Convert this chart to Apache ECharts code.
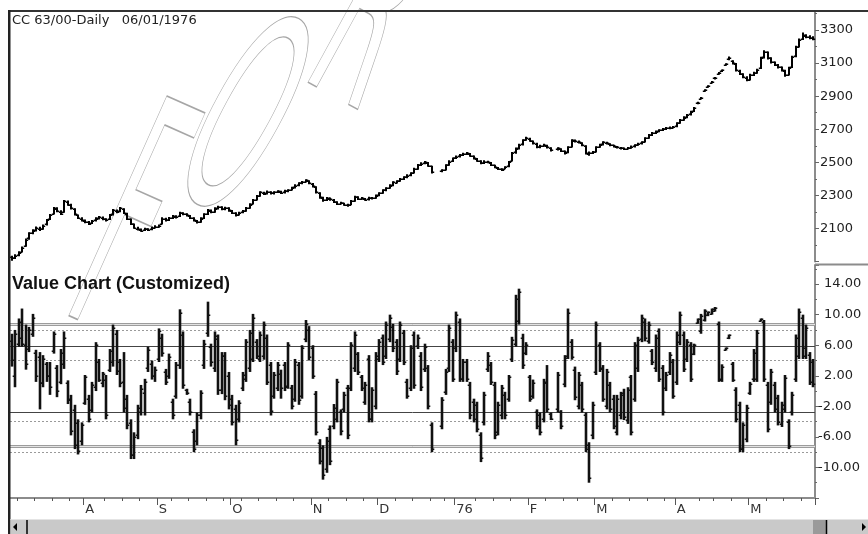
<!DOCTYPE html>
<html>
<head>
<meta charset="utf-8">
<script src="https://cdn.jsdelivr.net/npm/echarts@6/dist/echarts.min.js"></script>
<style>
html,body{margin:0;padding:0;background:#fff;}
#c{width:868px;height:534px;}
</style>
</head>
<body>
<div id="c"></div>
<script>
// ---------- texts ----------
const headerText = 'CC 63/00-Daily   06/01/1976';
const panelTitle = 'Value Chart (Customized)';
const watermarkLetters = ['F', 'O', 'R'];

// ---------- calendar ----------
const startDate = '1975-07-02';
const endDate = '1976-05-27';
const holidays = ['1975-07-04','1975-09-01','1975-11-27','1975-12-25','1976-01-01','1976-02-16','1976-04-16'];
const monthLetters = ['76','F','M','A','M','J','J','A','S','O','N','D'];

// ---------- axis ticks ----------
const priceAxis = { min: 1900, max: 3415, interval: 200, firstLabel: 2100, lastLabel: 3300 };
const valueAxis = { min: -14, max: 16.5, interval: 4, firstLabel: -10, lastLabel: 14 };

// ---------- value chart reference levels ----------
const bandLevels = [8.8, -7.2];      // light double lines
const innerLevels = [5.9, -2.8];     // dark solid lines
const dottedLevels = [8, 4, -4, -8]; // dotted lines

// ---------- price bars [open, high, low, close] ----------
const priceBars = [
[1930,1935,1905,1920],[1922,1945,1915,1935],[1940,1962,1932,1955],[1960,1992,1955,1985],[1995,2040,1990,2030],
[2040,2078,2032,2070],[2075,2095,2065,2085],[2090,2112,2082,2105],[2100,2110,2085,2095],[2100,2125,2092,2118],
[2125,2158,2118,2150],[2160,2188,2152,2180],[2190,2230,2185,2222],[2220,2228,2198,2205],[2200,2210,2182,2190],
[2200,2272,2195,2265],[2260,2270,2238,2245],[2240,2250,2215,2222],[2215,2222,2178,2185],[2180,2185,2158,2165],
[2160,2168,2142,2150],[2148,2155,2132,2140],[2138,2145,2122,2130],[2135,2152,2128,2145],[2150,2168,2142,2160],
[2162,2175,2155,2168],[2165,2172,2150,2158],[2155,2162,2142,2150],[2158,2188,2152,2180],[2185,2218,2178,2210],
[2205,2215,2192,2200],[2205,2230,2198,2222],[2215,2222,2188,2195],[2190,2195,2152,2160],[2155,2160,2122,2130],
[2125,2130,2098,2105],[2100,2110,2088,2095],[2092,2100,2080,2088],[2090,2105,2085,2098],[2095,2102,2085,2092],
[2095,2112,2090,2105],[2105,2120,2100,2112],[2112,2125,2105,2118],[2130,2168,2125,2160],[2158,2165,2142,2150],
[2152,2170,2145,2162],[2165,2182,2158,2175],[2172,2180,2160,2168],[2175,2202,2170,2195],[2192,2198,2180,2188],
[2185,2192,2172,2180],[2178,2182,2158,2165],[2162,2168,2142,2150],[2148,2152,2130,2137],[2140,2168,2135,2160],
[2162,2192,2158,2185],[2188,2218,2182,2210],[2208,2215,2192,2200],[2202,2228,2196,2220],[2222,2238,2215,2230],
[2228,2235,2210,2218],[2215,2232,2210,2225],[2222,2228,2202,2210],[2208,2212,2188,2195],[2192,2198,2172,2180],
[2182,2202,2178,2195],[2198,2212,2192,2205],[2208,2230,2202,2222],[2225,2252,2220,2245],[2250,2278,2245,2270],
[2275,2302,2270,2295],[2298,2325,2292,2318],[2315,2322,2302,2310],[2312,2330,2306,2322],[2320,2326,2305,2312],
[2312,2325,2306,2318],[2320,2332,2314,2325],[2322,2328,2308,2315],[2318,2335,2312,2328],[2326,2338,2320,2330],
[2335,2352,2330,2345],[2348,2368,2342,2360],[2362,2380,2356,2373],[2375,2388,2368,2380],[2384,2398,2378,2391],
[2388,2392,2368,2375],[2370,2375,2348,2355],[2350,2355,2312,2320],[2315,2320,2280,2288],[2285,2292,2262,2270],
[2272,2290,2266,2280],[2282,2288,2268,2276],[2272,2278,2255,2262],[2260,2265,2242,2250],[2250,2262,2245,2255],
[2252,2256,2238,2245],[2244,2250,2232,2240],[2245,2272,2240,2265],[2268,2298,2262,2290],[2288,2295,2272,2280],
[2280,2290,2274,2282],[2280,2284,2268,2275],[2276,2292,2270,2285],[2284,2290,2275,2282],[2285,2305,2280,2298],
[2300,2320,2295,2312],[2315,2338,2310,2330],[2332,2350,2326,2342],[2345,2368,2340,2360],[2362,2386,2356,2379],
[2378,2392,2372,2385],[2388,2405,2382,2398],[2400,2416,2394,2409],[2410,2428,2404,2420],[2422,2440,2416,2433],
[2438,2468,2432,2460],[2462,2490,2456,2482],[2485,2500,2478,2492],[2495,2508,2488,2500],[2498,2502,2474,2480],
[2476,2480,2432,2440],null,null,[2445,2458,2440,2451],[2455,2488,2450,2482],
[2485,2512,2480,2505],[2508,2530,2502,2524],[2526,2542,2520,2535],[2536,2550,2530,2542],[2545,2558,2538,2550],
[2550,2562,2544,2554],[2552,2556,2534,2540],[2538,2542,2518,2524],[2522,2526,2504,2510],[2508,2512,2488,2494],
[2496,2512,2490,2505],[2504,2510,2494,2500],[2498,2502,2478,2485],[2482,2486,2464,2470],[2468,2472,2454,2460],
[2458,2464,2448,2455],[2462,2476,2458,2470],[2475,2508,2470,2500],[2510,2562,2505,2554],[2560,2590,2552,2580],
[2585,2612,2578,2603],[2608,2640,2602,2633],[2636,2655,2630,2645],[2642,2648,2624,2630],[2628,2632,2608,2615],
[2612,2618,2585,2591],[2592,2606,2586,2598],[2600,2612,2595,2603],[2600,2606,2584,2590],[2588,2592,2566,2573],
null,[2578,2592,2572,2585],[2582,2586,2562,2570],[2566,2572,2548,2554],[2560,2598,2555,2591],
[2595,2640,2590,2633],[2630,2638,2620,2628],[2626,2632,2614,2621],[2618,2622,2598,2603],[2600,2604,2548,2554],
[2552,2565,2540,2558],[2556,2568,2550,2560],[2565,2598,2560,2591],[2594,2612,2588,2605],[2608,2628,2602,2621],
[2618,2624,2608,2615],[2612,2616,2598,2605],[2602,2606,2590,2597],[2595,2598,2584,2590],[2588,2592,2578,2585],
[2584,2590,2575,2582],[2582,2592,2578,2585],[2588,2602,2582,2595],[2596,2610,2590,2603],[2605,2618,2600,2612],
[2614,2628,2608,2621],[2625,2652,2620,2645],[2648,2672,2642,2664],[2665,2684,2660,2676],[2678,2692,2672,2685],
[2688,2700,2682,2694],[2695,2708,2690,2700],[2702,2714,2696,2706],[2706,2716,2700,2708],[2710,2720,2704,2712],
[2718,2742,2712,2735],[2740,2762,2734,2755],[2758,2778,2752,2770],[2772,2792,2766,2785],[2790,2812,2784,2805],
[2810,2834,2804,2827],[2858,2862,2856,2860],[2886,2890,2884,2888],[2934,2938,2932,2936],[2958,2964,2954,2960],
[2982,2990,2978,2985],[3008,3014,3004,3010],[3036,3046,3030,3040],[3052,3062,3046,3058],[3090,3098,3086,3095],
[3125,3140,3118,3130],[3110,3118,3092,3100],[3095,3100,3050,3058],[3055,3060,3028,3035],[3032,3038,3008,3015],
[3012,3020,2990,2997],[3000,3035,2995,3027],[3030,3048,3022,3040],[3042,3066,3036,3058],[3070,3138,3065,3130],
[3135,3178,3128,3170],[3165,3170,3122,3130],[3128,3135,3098,3106],[3104,3110,3082,3090],[3088,3094,3068,3076],
[3074,3080,3050,3058],[3055,3060,3018,3027],[3030,3078,3025,3070],[3075,3144,3070,3136],[3140,3205,3135,3197],
[3200,3248,3195,3240],[3245,3285,3240,3270],[3265,3275,3250,3258],[3260,3268,3244,3252],[3250,3262,3238,3245]
];

// ---------- value chart bars [open, high, low, close] ----------
const valueBars = [
[6.5,7.5,3.2,4.0],[2.0,8.0,0.5,7.5],[6.2,9.5,5.8,9.0],[7.0,10.8,5.8,6.2],[6.0,8.7,2.8,3.5],
[5.5,8.4,5.1,8.0],[7.5,10.1,7.1,9.5],[5.0,5.4,1.2,2.0],[4.5,5.1,-2.4,1.0],[1.0,4.7,0.5,4.2],
[3.5,3.8,1.2,2.0],[2.0,3.8,-0.5,0.5],[5.2,7.8,4.9,7.5],[3.0,3.4,-0.8,0.0],[1.2,5.5,0.9,5.0],
[3.5,7.8,2.9,7.0],[1.0,1.4,-1.7,-1.2],[-1.0,-0.5,-5.8,-5.2],[-2.5,-1.8,-7.6,-7.0],[-4.2,-3.7,-8.3,-7.8],
[-6.5,-4.1,-7.1,-4.5],[-1.5,2.1,-1.8,1.8],[-1.0,-0.5,-4.1,-3.6],[-2.5,1.2,-2.8,0.8],[0.5,6.4,0.0,6.0],
[3.8,4.2,1.2,1.5],[1.0,2.5,0.5,2.2],[1.5,2.1,-3.7,-3.2],[2.8,5.5,2.5,5.2],[3.8,8.7,3.2,8.2],
[7.5,8.0,2.1,2.6],[3.8,4.2,0.5,1.0],[1.2,5.1,-2.8,-2.2],[-1.0,-0.5,-5.0,-4.5],[-4.2,-3.7,-8.9,-8.4],
[-8.4,-5.4,-8.9,-6.0],[-5.8,-1.8,-6.3,-2.2],[-2.8,0.8,-3.2,0.3],[-0.2,1.6,-3.2,1.2],[3.0,5.8,2.5,5.4],
[3.6,4.0,1.5,2.0],[2.0,3.2,1.2,2.8],[4.2,8.2,3.8,7.8],[7.0,7.5,4.5,5.0],[2.5,2.9,0.8,1.2],
[2.0,4.9,1.6,4.5],[-1.4,-1.0,-3.7,-3.2],[-0.6,3.8,-1.0,3.4],[3.4,10.7,2.9,10.2],[7.3,7.8,0.3,0.8],
[0.2,0.3,-0.5,-0.3],[-1.4,-1.0,-3.2,-2.8],[-5.4,-5.0,-8.0,-7.6],[-6.6,-2.8,-7.1,-3.2],[-3.2,0.1,-3.7,-0.3],
[3.4,6.7,2.9,6.2],[7.6,11.7,7.1,10.0],[5.8,6.2,3.2,3.8],[3.0,7.8,2.5,7.2],[6.8,7.4,-0.5,0.2],
[0.2,5.1,-0.4,4.6],[4.6,5.1,-1.2,-0.6],[2.0,2.5,-2.4,-1.8],[-1.0,-0.5,-4.5,-4.0],[-2.4,-1.8,-7.1,-6.4],
[-3.6,-1.2,-4.1,-1.6],[0.4,2.5,0.0,2.1],[1.6,6.8,1.2,6.4],[3.0,8.0,2.5,7.6],[4.2,10.1,3.8,9.6],
[6.4,6.8,4.2,4.6],[4.2,7.8,3.8,7.4],[4.6,9.1,4.1,8.6],[7.0,7.4,0.8,1.2],[3.4,3.8,-3.2,-2.6],
[-0.6,2.5,-1.0,2.1],[0.4,3.8,0.0,3.4],[2.2,2.8,-1.0,0.4],[3.4,3.8,0.0,0.5],[0.6,6.4,0.3,6.0],
[0.4,0.8,-2.4,-2.0],[-1.0,4.2,-1.4,3.8],[3.4,3.8,-1.8,-1.2],[-0.6,6.0,-1.0,5.6],[6.8,9.3,6.4,8.8],
[8.0,8.5,4.0,4.5],[5.6,6.0,1.6,2.0],[-0.4,0.0,-5.8,-5.4],[-6.8,-6.3,-9.6,-9.2],[-7.5,-7.1,-11.6,-11.0],
[-10.2,-6.0,-10.7,-6.5],[-5.0,-4.5,-9.7,-9.2],[-4.6,-1.7,-5.0,-2.2],[-3.6,1.6,-4.1,1.2],[-2.8,-2.4,-5.8,-5.2],
[-2.4,-0.1,-2.8,-0.5],[0.4,0.8,-6.3,-5.8],[0.4,6.4,0.0,6.0],[3.0,7.8,2.5,7.4],[4.8,5.1,2.1,2.5],
[1.8,2.1,0.0,0.4],[-1.4,1.2,-1.8,0.8],[4.2,4.7,-4.1,-3.6],[-3.6,0.5,-4.1,0.1],[-2.0,5.1,-2.4,4.6],
[4.2,6.8,3.8,6.4],[6.9,7.4,3.4,3.8],[4.6,9.1,4.2,8.6],[6.8,10.0,6.4,9.6],[8.4,8.8,5.1,5.6],
[6.4,6.8,2.1,2.6],[4.2,9.1,3.8,8.6],[7.6,8.0,3.4,3.8],[1.2,1.6,-1.0,-0.6],[0.4,6.0,0.0,5.6],
[7.4,7.8,0.3,0.8],[5.9,7.4,5.5,7.0],[4.6,5.1,0.0,0.5],[2.9,6.2,2.5,5.8],[3.0,3.4,-2.4,-2.0],
[-4.5,-4.1,-8.0,-7.6],null,null,[-4.6,-0.8,-5.0,-1.2],[-0.1,2.9,-0.5,2.5],
[3.0,8.7,2.5,8.2],[6.4,6.8,1.2,1.6],[5.6,10.4,5.1,10.0],[9.0,9.5,1.2,1.6],[1.6,4.2,1.2,3.8],
[3.8,4.2,1.2,1.6],[0.8,1.2,-3.7,-3.2],[-1.4,-1.0,-4.1,-3.6],[-1.8,-1.4,-5.4,-5.0],[-5.8,-5.4,-9.3,-8.8],
[-4.0,-0.1,-4.5,-0.5],[2.9,5.1,2.5,4.6],[3.4,3.8,0.8,1.2],[0.8,1.2,-6.3,-5.8],[-5.4,-1.4,-5.8,-1.8],
[-3.2,0.8,-3.7,0.4],[-0.5,-0.1,-3.7,-3.2],[-1.0,2.1,-1.4,1.8],[4.2,7.1,3.8,6.7],[6.2,12.6,5.8,12.0],
[9.2,13.4,8.7,13.0],[7.0,7.5,2.9,3.4],[5.0,6.4,4.7,6.0],[1.8,2.1,-1.4,-1.0],[-0.6,1.5,-1.0,1.0],
[-2.8,-2.4,-5.0,-4.6],[-3.2,-2.8,-5.8,-5.4],[-3.6,1.6,-4.1,1.2],[1.0,3.4,-2.8,-2.4],[-3.0,-2.8,-3.8,-3.6],
null,[-2.4,2.5,-2.8,2.1],[-2.8,-2.5,-5.0,-4.6],[0.9,4.7,0.5,4.3],[4.6,10.8,4.2,10.2],
[6.4,6.8,4.1,4.5],[2.8,3.2,-1.2,-0.8],[-2.0,2.5,-2.4,2.1],[0.8,1.2,-2.8,-2.4],[-3.2,-2.8,-8.0,-7.6],
[-7.1,-6.7,-12.0,-11.4],[-5.8,-1.4,-6.3,-1.8],[2.5,9.1,2.1,8.6],[6.0,6.4,2.5,2.9],[3.0,3.4,-1.4,-1.0],
[-2.0,2.9,-2.4,2.5],[0.8,1.2,-2.8,-2.4],[-1.0,-0.5,-5.0,-4.6],[-5.4,-0.5,-5.8,-1.0],[-3.2,-0.1,-3.7,-0.5],
[-0.2,0.3,-3.8,-3.4],[-3.8,0.5,-4.3,0.1],[1.8,2.1,-5.8,-5.4],[-1.0,6.4,-1.4,6.0],[3.0,7.1,2.5,6.7],
[6.8,10.0,6.4,9.6],[9.0,9.5,6.5,7.0],[6.6,9.1,6.2,8.7],[5.2,5.5,3.4,3.8],[3.0,7.4,2.5,7.0],
[7.8,8.2,1.2,1.6],[3.0,3.4,-3.2,-2.8],[0.4,2.5,0.0,2.1],[2.5,5.1,2.1,4.7],[3.8,4.2,-1.0,-0.6],
[1.2,7.8,0.8,7.4],[6.4,10.4,6.0,10.0],[7.4,7.8,2.5,2.9],[4.2,6.8,3.8,6.4],[6.0,6.4,1.2,1.6],
[4.9,6.2,4.7,6.0],[8.9,9.5,8.8,9.4],[7.8,10.1,7.5,9.8],[9.3,10.7,9.1,10.5],[9.9,10.4,9.8,10.3],
[10.1,10.8,10.0,10.7],[10.5,11.0,10.4,10.9],[8.8,9.1,1.2,1.6],[1.5,3.5,1.2,3.2],[5.4,5.7,5.3,5.6],
[6.9,7.4,6.8,7.3],[3.5,3.8,1.2,1.5],[0.2,0.5,-4.1,-3.6],[-1.8,-1.4,-8.0,-7.6],[-7.6,-4.1,-8.0,-4.5],
[-6.3,-1.8,-6.7,-2.2],[-0.2,1.2,-0.5,0.9],[1.6,5.5,1.2,5.0],[1.6,8.0,1.2,7.6],[9.2,9.5,9.1,9.4],
[9.0,9.3,1.2,1.6],[0.8,1.2,-5.4,-5.0],[-1.4,2.9,-1.8,2.5],[0.8,1.2,-2.8,-2.4],[-0.9,-0.5,-4.5,-4.1],
[-4.3,-1.4,-4.7,-1.8],[-2.4,2.1,-2.8,1.7],[-4.1,-3.7,-7.6,-7.2],[-2.8,-0.1,-3.2,-0.5],[1.6,7.4,1.2,7.0],
[4.6,10.8,4.2,10.4],[9.6,10.0,4.2,5.6],[4.6,8.7,4.2,8.3],[4.7,5.1,0.8,1.2],[3.8,4.2,0.5,0.9]
];

// ---------- build categories ----------
function tradingDays(start, end, skip) {
  const out = [];
  const d = new Date(start + 'T00:00:00Z');
  const e = new Date(end + 'T00:00:00Z');
  while (d <= e) {
    const wd = d.getUTCDay();
    const s = d.toISOString().slice(0, 10);
    if (wd !== 0 && wd !== 6 && skip.indexOf(s) < 0) out.push(s);
    d.setUTCDate(d.getUTCDate() + 1);
  }
  return out;
}
const dates = tradingDays(startDate, endDate, holidays);
const weekOf = s => Math.floor((Date.parse(s + 'T00:00:00Z') / 86400000 + 3) / 7);
const isMonthStart = dates.map((s, i) => i > 0 && s.slice(5, 7) !== dates[i - 1].slice(5, 7));
const isWeekStart = dates.map((s, i) => i > 0 && weekOf(s) !== weekOf(dates[i - 1]));
const isMinorTick = dates.map((s, i) => isWeekStart[i] && !isMonthStart[i] && !isMonthStart[i - 1] && !isMonthStart[i - 2]);
const monthLabel = dates.map((s, i) => isMonthStart[i] ? monthLetters[parseInt(s.slice(5, 7), 10) - 1] : '');

const toItems = bars => bars.map((b, i) => b ? [i, b[0], b[1], b[2], b[3]] : [i, '-', '-', '-', '-']);

function ohlcRenderer(color, lw, tickLen, tickW, minH) {
  return function (params, api) {
    const o = api.value(1), h = api.value(2), l = api.value(3), c = api.value(4);
    if (isNaN(h) || isNaN(l)) return;
    const i = api.value(0);
    const pH = api.coord([i, h]);
    const pL = api.coord([i, l]);
    const pO = api.coord([i, o]);
    const pC = api.coord([i, c]);
    const x = Math.round(pH[0]);
    let y1 = pH[1], y2 = pL[1];
    if (y2 - y1 < minH) { const m = (y1 + y2) / 2; y1 = m - minH / 2; y2 = m + minH / 2; }
    const st = { stroke: color, lineWidth: lw };
    const tk = { stroke: color, lineWidth: tickW };
    return {
      type: 'group',
      children: [
        { type: 'line', shape: { x1: x, y1: y1, x2: x, y2: y2 }, style: st },
        { type: 'line', shape: { x1: x - lw / 2 - tickLen, y1: Math.round(pO[1]) + 0.25, x2: x, y2: Math.round(pO[1]) + 0.25 }, style: tk },
        { type: 'line', shape: { x1: x, y1: Math.round(pC[1]) + 0.25, x2: x + lw / 2 + tickLen, y2: Math.round(pC[1]) + 0.25 }, style: tk }
      ]
    };
  };
}

const FONT = 'DejaVu Sans';
const labelColor = '#222';

const levelLines = [];
dottedLevels.forEach(v => levelLines.push({ yAxis: v, lineStyle: { color: '#9a9a9a', width: 1, type: [2, 2] } }));
bandLevels.forEach(v => levelLines.push({ yAxis: v, lineStyle: { color: '#9c9c9c', width: 3, type: 'solid' } }));
bandLevels.forEach(v => levelLines.push({ yAxis: v, lineStyle: { color: '#e2e2e2', width: 1, type: 'solid' } }));
innerLevels.forEach(v => levelLines.push({ yAxis: v, lineStyle: { color: '#444', width: 1, type: 'solid' } }));

const wmStyle = { fontSize: 100, fontFamily: FONT, fill: 'none', stroke: '#a6a6a6', lineWidth: 0.5, align: 'center', verticalAlign: 'middle' };

const chart = echarts.init(document.getElementById('c'), null, { renderer: 'canvas', width: 868, height: 534 });

const option = {
  animation: false,
  backgroundColor: '#fff',
  grid: [
    { left: 10, right: 53, top: 11, height: 250.6, containLabel: false, outerBoundsMode: 'none' },
    { left: 10, right: 53, top: 265, height: 233, containLabel: false, outerBoundsMode: 'none' }
  ],
  xAxis: [
    { type: 'category', gridIndex: 0, data: dates, boundaryGap: true, show: false, axisLine: { onZero: false } },
    {
      type: 'category', gridIndex: 1, data: dates, boundaryGap: true, position: 'bottom',
      axisLine: { show: true, onZero: false, lineStyle: { color: '#8c8c8c', width: 2 } },
      axisTick: { show: true, length: 7, interval: (i) => isMonthStart[i], lineStyle: { color: '#555', width: 1 } },
      axisLabel: {
        show: true, interval: (i) => isMonthStart[i], formatter: (v, i) => monthLabel[i],
        align: 'left', margin: 5, color: '#333', fontFamily: FONT, fontSize: 13
      },
      splitLine: { show: false }
    },
    {
      type: 'category', gridIndex: 1, data: dates, boundaryGap: true, position: 'bottom', offset: 0,
      axisLine: { show: false, onZero: false },
      axisTick: { show: true, length: 3, interval: (i) => isMinorTick[i], lineStyle: { color: '#555', width: 1 } },
      axisLabel: { show: true, interval: (i) => isMinorTick[i], formatter: () => '', fontSize: 1 },
      splitLine: { show: false }
    }
  ],
  yAxis: [
    {
      type: 'value', gridIndex: 0, position: 'right', min: priceAxis.min, max: priceAxis.max, interval: priceAxis.interval,
      axisLine: { show: true, lineStyle: { color: '#8c8c8c', width: 2 } },
      axisTick: { show: true, length: 4, lineStyle: { color: '#666' } },
      minorTick: { show: true, splitNumber: 2, length: 2, lineStyle: { color: '#666' } },
      splitLine: { show: false },
      axisLabel: {
        margin: 5, color: labelColor, fontFamily: FONT, fontSize: 13,
        formatter: v => (v >= priceAxis.firstLabel && v <= priceAxis.lastLabel && Math.abs((v - priceAxis.firstLabel) % priceAxis.interval) < 1e-6) ? String(v) : ''
      }
    },
    {
      type: 'value', gridIndex: 1, position: 'right', min: valueAxis.min, max: valueAxis.max, interval: valueAxis.interval,
      axisLine: { show: true, lineStyle: { color: '#8c8c8c', width: 2 } },
      axisTick: { show: true, length: 4, lineStyle: { color: '#666' } },
      minorTick: { show: true, splitNumber: 2, length: 2, lineStyle: { color: '#666' } },
      splitLine: { show: false },
      axisLabel: {
        margin: 3, color: labelColor, fontFamily: FONT, fontSize: 13,
        formatter: v => {
          if (v < valueAxis.firstLabel - 1e-6 || v > valueAxis.lastLabel + 1e-6) return '';
          if (Math.abs(((v - valueAxis.firstLabel) % valueAxis.interval)) > 1e-6) return '';
          const s = v.toFixed(2);
          return v >= 0 ? '{p|' + s + '}' : s;
        },
        rich: { p: { padding: [0, 0, 0, 6], fontFamily: FONT, fontSize: 13, color: labelColor } }
      }
    }
  ],
  series: [
    {
      type: 'custom', name: 'price', xAxisIndex: 0, yAxisIndex: 0, z: 3,
      renderItem: ohlcRenderer('#000', 2, 1.2, 1.5, 2.5),
      encode: { x: 0, y: [1, 2, 3, 4] },
      data: toItems(priceBars)
    },
    {
      type: 'custom', name: 'value', xAxisIndex: 1, yAxisIndex: 1, z: 3,
      renderItem: ohlcRenderer('#111', 2.6, 1, 1.5, 2.5),
      encode: { x: 0, y: [1, 2, 3, 4] },
      data: toItems(valueBars),
      markLine: { silent: true, symbol: ['none', 'none'], label: { show: false }, z: 1, animation: false, data: levelLines }
    }
  ],
  graphic: [
    // watermark
    { type: 'text', x: 121, y: 245, rotation: -0.42, scaleX: 1, scaleY: 3.3, silent: true, z: 0, style: Object.assign({ text: watermarkLetters[0] }, wmStyle) },
    { type: 'text', x: 234, y: 137, rotation: -0.5, scaleX: 1, scaleY: 2.8, silent: true, z: 0, style: Object.assign({ text: watermarkLetters[1] }, wmStyle) },
    { type: 'text', x: 366, y: 28, rotation: -0.5, scaleX: 1, scaleY: 2.9, silent: true, z: 0, style: Object.assign({ text: watermarkLetters[2] }, wmStyle) },
    // titles
    { type: 'text', left: 12, top: 14, z: 10, style: { text: headerText, fontFamily: FONT, fontSize: 13, fill: '#222' } },
    { type: 'text', left: 12, top: 275, z: 10, style: { text: panelTitle, fontFamily: 'Liberation Sans', fontWeight: 'bold', fontSize: 18, fill: '#111' } },
    // frame
    { type: 'rect', z: 10, shape: { x: 8, y: 10, width: 860, height: 2 }, style: { fill: '#333' } },
    { type: 'rect', z: 10, shape: { x: 8, y: 10, width: 2.5, height: 524 }, style: { fill: '#222' } },
    { type: 'line', z: 10, shape: { x1: 815, y1: 264.5, x2: 868, y2: 264.5 }, style: { stroke: '#8c8c8c', lineWidth: 2 } },
    // scrollbar
    { type: 'rect', z: 10, shape: { x: 10.5, y: 519, width: 858, height: 15 }, style: { fill: '#c9c9c9' } },
    { type: 'line', z: 10, shape: { x1: 10.5, y1: 519.5, x2: 868, y2: 519.5 }, style: { stroke: '#e4e4e4', lineWidth: 1 } },
    { type: 'polygon', z: 11, shape: { points: [[13, 527], [17, 523], [17, 531]] }, style: { fill: '#000' } },
    { type: 'line', z: 11, shape: { x1: 27, y1: 520, x2: 27, y2: 534 }, style: { stroke: '#000', lineWidth: 1.5 } },
    { type: 'rect', z: 11, shape: { x: 813, y: 520, width: 13, height: 14 }, style: { fill: '#9a9a9a' } },
    { type: 'line', z: 11, shape: { x1: 826.5, y1: 520, x2: 826.5, y2: 534 }, style: { stroke: '#000', lineWidth: 1.5 } },
    { type: 'polygon', z: 11, shape: { points: [[866, 527], [862, 523], [862, 531]] }, style: { fill: '#000' } }
  ]
};
chart.setOption(option);
</script>
</body>
</html>
